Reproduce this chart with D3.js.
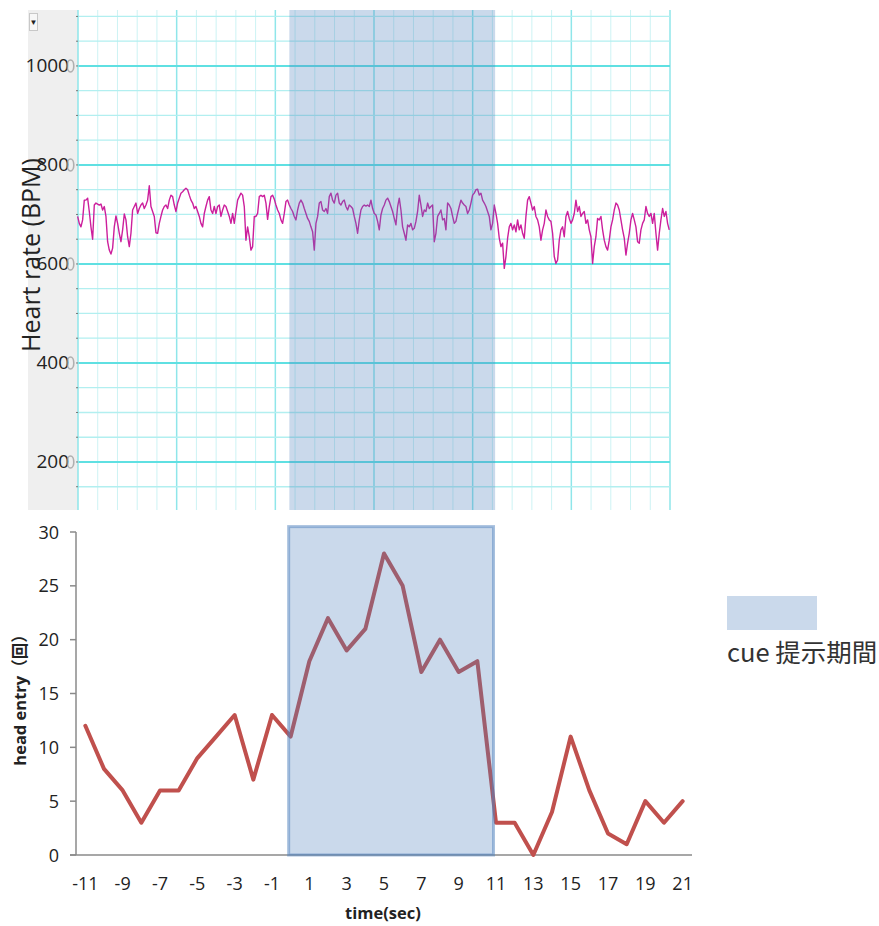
<!DOCTYPE html>
<html>
<head>
<meta charset="utf-8">
<script src="https://cdn.jsdelivr.net/npm/d3@7"></script>
<style>
  body { margin: 0; background: #fff; }
  svg { display: block; font-family: "Open Sans", "Noto Sans", sans-serif; }
</style>
</head>
<body>
<script>
// heart rate trace (BPM), sampled uniformly from hrStart, one value every hrStep seconds
var hrStart = -11.32;
var hrStep = 0.0891;
var hrBpm = [
  696, 682, 675, 689, 729, 729, 733, 706, 675, 650, 719, 723, 721, 719, 721, 709, 716, 696, 645, 628,
  620, 632, 675, 697, 682, 662, 645, 669, 701, 689, 655, 635, 662, 709, 716, 723, 702, 712, 719, 723,
  712, 719, 729, 758, 716, 706, 696, 663, 662, 682, 696, 709, 716, 719, 712, 729, 739, 736, 719, 706,
  723, 733, 743, 746, 750, 753, 750, 739, 729, 723, 712,
  716, 706, 696, 682, 675, 702, 716, 729, 736, 709, 702, 716, 702, 716, 719, 696, 709, 719, 716, 706,
  696, 682, 702, 682, 706, 729, 736, 743, 739, 716, 648, 675, 655, 628, 635, 696, 696, 702, 736, 739,
  736, 739, 723, 690, 716, 736, 739, 731, 719, 709, 702, 689, 682, 702, 726, 729, 719, 712, 706, 696,
  689, 709, 723, 729, 723, 712, 702, 692, 686, 675, 665, 628,
  682, 696, 723, 726, 709, 706, 712, 702, 736, 743, 729, 723, 739, 743, 723, 719, 726, 729, 716, 709,
  719, 716, 712, 696, 682, 662, 689, 709, 716, 719, 717, 719, 716, 729, 712, 702, 699, 686, 669, 699,
  712, 719, 729, 733, 726, 716, 706, 692, 679, 716, 733, 709, 675, 662, 648, 679, 675, 682, 669, 672,
  686, 706, 739, 719, 696, 709, 706, 723, 712, 716, 719, 645,
  662, 696, 702, 709, 689, 692, 669, 723, 719, 712, 696, 682, 686, 702, 716, 729, 723, 719, 716, 702,
  709, 723, 739, 743, 750, 751, 739, 743, 729, 723, 716, 706, 696, 669, 682, 719, 702, 682, 652, 635,
  642, 591, 615, 652, 675, 682, 669, 679, 665, 689, 669, 679, 662, 652, 696, 729, 736, 723, 709, 716,
  696, 689, 675, 648, 669, 682, 709, 696, 689, 686, 662, 615,
  601, 608, 648, 669, 675, 655, 696, 706, 692, 682, 689, 702, 729, 706, 716, 696, 702, 706, 682, 689,
  669, 655, 601, 635, 655, 692, 689, 696, 669, 648, 635, 628, 648, 675, 689, 709, 723, 719, 709, 689,
  669, 652, 618, 642, 662, 689, 702, 689, 675, 645, 642, 669, 682, 689, 716, 702, 696, 702, 682, 702,
  662, 628, 662, 689, 712, 696, 706, 682, 669
];
var hrTicks = [200, 400, 600, 800, 1000];

// cue period (sec)
var cueStart = 0;
var cueEnd = 11;

// head entries per second
var entrySec = [-11, -10, -9, -8, -7, -6, -5, -4, -3, -2, -1, 0, 1, 2, 3, 4, 5, 6, 7, 8, 9, 10,
  11, 12, 13, 14, 15, 16, 17, 18, 19, 20, 21];
var entryCount = [12, 8, 6, 3, 6, 6, 9, 11, 13, 7, 13, 11, 18, 22, 19, 21, 28, 25, 17, 20, 17, 18,
  3, 3, 0, 4, 11, 6, 2, 1, 5, 3, 5];
var entryTicks = [0, 5, 10, 15, 20, 25, 30];
var secLabels = [-11, -9, -7, -5, -3, -1, 1, 3, 5, 7, 9, 11, 13, 15, 17, 19, 21];

var cueFill = 'rgba(79,129,189,0.3)';

var svg = d3.select('body').append('svg').attr('width', 879).attr('height', 926);

// ---------- top: heart rate ----------
var xHr = d3.scaleLinear().domain([-11.3, 20.35]).range([78, 670]);
var yHr = d3.scaleLinear().domain([103, 1113]).range([510, 10]);
var xGrid = d3.scaleLinear().domain([0, 30]).range([78, 670]);

svg.append('rect').attr('x', 28).attr('y', 10).attr('width', 50).attr('height', 500).attr('fill', '#efefef');
svg.append('rect').attr('x', 29.5).attr('y', 13.5).attr('width', 8).attr('height', 17)
  .attr('fill', '#f7f7f7').attr('stroke', '#c8c8c8');
svg.append('text').attr('x', 33.5).attr('y', 25).attr('text-anchor', 'middle')
  .attr('font-size', 8).attr('fill', '#222').text('\u25BC');

var grid = svg.append('g');
grid.selectAll('line.v').data(d3.range(1, 31)).enter().append('line')
  .attr('x1', function(d) { return xGrid(d); }).attr('x2', function(d) { return xGrid(d); })
  .attr('y1', 10).attr('y2', 510)
  .attr('stroke', function(d) { return d % 5 === 0 ? '#8fe6ea' : '#cdf3f4'; })
  .attr('stroke-width', function(d) { return d % 5 === 0 ? 1.5 : 1; });
grid.selectAll('line.h').data(d3.range(150, 1101, 50)).enter().append('line')
  .attr('x1', 78).attr('x2', 670)
  .attr('y1', function(d) { return yHr(d); }).attr('y2', function(d) { return yHr(d); })
  .attr('stroke', function(d) { return d % 200 === 0 ? '#5fe0e2' : '#b2eff0'; })
  .attr('stroke-width', function(d) { return d % 200 === 0 ? 2 : 1.3; });
grid.append('line').attr('x1', 78).attr('x2', 78).attr('y1', 10).attr('y2', 510)
  .attr('stroke', '#8fe6ea').attr('stroke-width', 1.5);
grid.selectAll('line.t').data(d3.range(150, 1101, 50)).enter().append('line')
  .attr('x1', 76).attr('x2', 78)
  .attr('y1', function(d) { return yHr(d); }).attr('y2', function(d) { return yHr(d); })
  .attr('stroke', '#777').attr('stroke-width', 1);

var hrLine = d3.line()
  .x(function(d, i) { return xHr(hrStart + i * hrStep); })
  .y(function(d) { return yHr(d); });
svg.append('path').datum(hrBpm).attr('d', hrLine)
  .attr('fill', 'none').attr('stroke', '#cc1f9c').attr('stroke-width', 1.4).attr('stroke-linejoin', 'round');

svg.append('rect').attr('x', xHr(cueStart)).attr('y', 10)
  .attr('width', xHr(cueEnd) - xHr(cueStart)).attr('height', 500).attr('fill', cueFill);

svg.selectAll('text.hr').data(hrTicks).enter().append('text')
  .attr('x', 69).attr('y', function(d) { return yHr(d) + 6.5; })
  .attr('text-anchor', 'end').attr('font-size', 19).attr('fill', '#222')
  .text(function(d) { return d; });
// faint doubled last digit beside each label
svg.selectAll('ellipse.hrg').data(hrTicks).enter().append('ellipse')
  .attr('cx', 70.5).attr('cy', function(d) { return yHr(d); })
  .attr('rx', 3.3).attr('ry', 6)
  .attr('fill', 'none').attr('stroke', '#999').attr('stroke-width', 1.6).attr('opacity', 0.75);

svg.append('text').attr('transform', 'translate(40,255) rotate(-90)')
  .attr('text-anchor', 'middle').attr('font-size', 25).attr('fill', '#222')
  .text('Heart rate (BPM)');

// ---------- bottom: head entries ----------
var xE = d3.scalePoint().domain(entrySec).range([76, 692]).padding(0.5);
var yE = d3.scaleLinear().domain([0, 30]).range([855, 532]);

svg.append('line').attr('x1', 76).attr('x2', 76).attr('y1', yE(30)).attr('y2', yE(0))
  .attr('stroke', '#8a8a8a').attr('stroke-width', 1.5);
svg.append('line').attr('x1', 70).attr('x2', 692).attr('y1', yE(0)).attr('y2', yE(0))
  .attr('stroke', '#8a8a8a').attr('stroke-width', 1.5);
svg.selectAll('line.yt').data(entryTicks).enter().append('line')
  .attr('x1', 70).attr('x2', 76)
  .attr('y1', function(d) { return yE(d); }).attr('y2', function(d) { return yE(d); })
  .attr('stroke', '#8a8a8a').attr('stroke-width', 1.5);

svg.selectAll('text.yl').data(entryTicks).enter().append('text')
  .attr('x', 59).attr('y', function(d) { return yE(d) + 6.5; })
  .attr('text-anchor', 'end').attr('font-size', 18).attr('fill', '#222')
  .text(function(d) { return d; });
svg.selectAll('text.xl').data(secLabels).enter().append('text')
  .attr('x', function(d) { return xE(d); }).attr('y', 890)
  .attr('text-anchor', 'middle').attr('font-size', 18).attr('fill', '#222')
  .text(function(d) { return d; });

svg.append('text').attr('x', 383).attr('y', 919).attr('text-anchor', 'middle')
  .attr('font-size', 16.5).attr('font-weight', 'bold').attr('fill', '#222').text('time(sec)');
svg.append('text').attr('transform', 'translate(26,696) rotate(-90)').attr('text-anchor', 'middle')
  .attr('font-family', '"Open Sans", "Noto Sans CJK JP", sans-serif')
  .attr('font-size', 16.5).attr('font-weight', 'bold').attr('fill', '#222').text('head entry（回）');

var entryLine = d3.line()
  .x(function(d, i) { return xE(entrySec[i]); })
  .y(function(d) { return yE(d); });
svg.append('path').datum(entryCount).attr('d', entryLine)
  .attr('fill', 'none').attr('stroke', '#c0504d').attr('stroke-width', 4)
  .attr('stroke-linejoin', 'round').attr('stroke-linecap', 'round');

svg.append('rect').attr('x', xE(cueStart) - 2).attr('y', yE(30.5))
  .attr('width', xE(cueEnd) - xE(cueStart) - 0.5).attr('height', yE(0) - yE(30.5))
  .attr('fill', cueFill).attr('stroke', 'rgba(79,129,189,0.5)').attr('stroke-width', 3);

// legend
svg.append('rect').attr('x', 727).attr('y', 596).attr('width', 90).attr('height', 34).attr('fill', cueFill);
svg.append('text').attr('x', 727).attr('y', 662)
  .attr('font-family', '"Noto Sans CJK JP", "Open Sans", sans-serif')
  .attr('font-size', 25.5).attr('fill', '#333').text('cue 提示期間');
</script>
</body>
</html>
